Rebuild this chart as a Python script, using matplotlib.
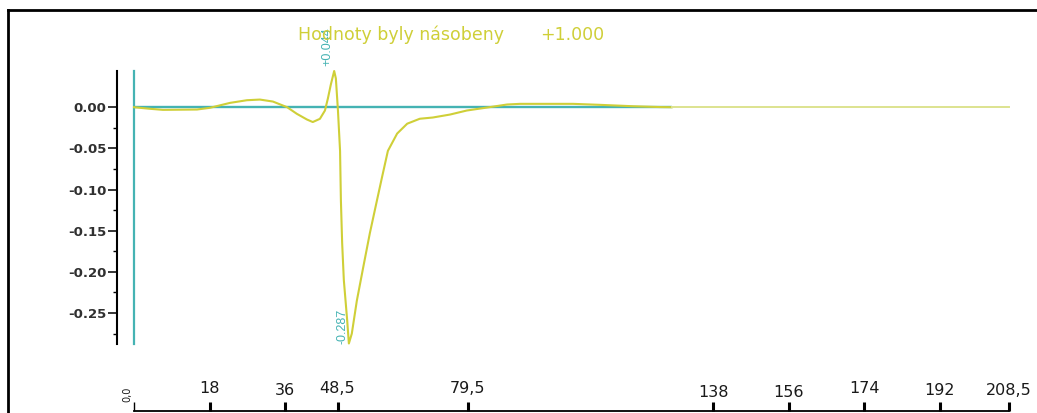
import matplotlib
matplotlib.use("Agg")
import matplotlib.pyplot as plt
from matplotlib.lines import Line2D
from matplotlib.ticker import FixedLocator

# Averaged beat: sample position and amplitude
x_sig = [0.0, 3.8, 6.9, 15.0, 18.1, 22.9, 26.9, 30.0, 33.1, 36.5, 38.8, 41.2,
         42.6, 44.3, 45.5, 46.2, 46.9, 47.7, 48.1, 48.6, 49.1, 49.3, 49.6, 50.0,
         50.8, 51.2, 51.9, 53.1, 54.6, 56.2, 57.9, 59.1, 60.5, 62.7, 65.1, 68.1,
         71.2, 75.3, 79.3, 84.1, 88.9, 92.0, 104.6, 111.0, 118.9, 125.3, 128.2,
         208.5]
y_sig = [0.0, -0.0019, -0.0032, -0.0028, -0.0007, 0.0053, 0.0085, 0.0093,
         0.0069, 0.0, -0.0080, -0.0149, -0.018, -0.0141, -0.0040, 0.0106,
         0.0275, 0.044, 0.035, -0.004, -0.053, -0.113, -0.165, -0.210, -0.259,
         -0.287, -0.275, -0.235, -0.195, -0.153, -0.113, -0.085, -0.053, -0.032,
         -0.020, -0.014, -0.0125, -0.0089, -0.0040, -0.0004, 0.0033, 0.0041,
         0.0041, 0.0029, 0.0012, 0.0002, 0.0, 0.0]

y_ticks = [0.00, -0.05, -0.10, -0.15, -0.20, -0.25]
y_minor = [-0.025, -0.075, -0.125, -0.175, -0.225, -0.275]
x_marks = [18, 36, 48.5, 79.5, 138, 156, 174, 192, 208.5]
x_mark_labels = ["18", "36", "48,5", "79,5", "138", "156", "174", "192", "208,5"]
scale_factor = 1.000
title_text = "Hodnoty byly násobeny"

W, H = 1037, 413
YELLOW = "#cfcf38"
PALE = "#dde38f"
TEAL = "#45b3b3"


def fx(px):
    return px / W


def fy(py):
    return 1 - py / H


def pt(px):
    return px * 72 / 100


fig = plt.figure(figsize=(W / 100, H / 100), dpi=100)
fig.patch.set_facecolor("white")

ax = fig.add_axes([fx(134), fy(343.5), 875 / W, (343.5 - 71) / H])
ax.set_xlim(0, 208.5)
ax.set_ylim(min(y_sig), max(y_sig))
ax.patch.set_alpha(0)
for side in ("top", "right", "bottom"):
    ax.spines[side].set_visible(False)
ax.spines["left"].set_position(("outward", pt(17)))
ax.spines["left"].set_linewidth(1.5)
ax.spines["left"].set_color("black")

ax.set_xticks([])
ax.yaxis.set_major_locator(FixedLocator(y_ticks))
ax.yaxis.set_minor_locator(FixedLocator(y_minor))
ax.set_yticklabels([f"{v:.2f}".replace("-0.00", "0.00") for v in y_ticks],
                   fontsize=9.5, fontweight="bold", color="#303030",
                   family="DejaVu Sans")
ax.tick_params(axis="y", which="major", length=pt(9), width=1.1, pad=1,
               color="black")
ax.tick_params(axis="y", which="minor", length=pt(4), width=1.0,
               color="black")

# reference lines: zero baseline and start marker
ax.axvline(x_sig[0], color=TEAL, lw=1.6, clip_on=False, zorder=2)
ax.hlines(0, x_sig[0], x_sig[-2], color=TEAL, lw=1.7, zorder=2)

# beat curve, with the flat tail drawn lighter
ax.plot(x_sig[:-1], y_sig[:-1], color=YELLOW, lw=1.5, clip_on=False,
        zorder=3)
ax.plot(x_sig[-2:], y_sig[-2:], color=PALE, lw=1.4, clip_on=False, zorder=3)

# extreme value labels
i_max = y_sig.index(max(y_sig))
i_min = y_sig.index(min(y_sig))
ax.annotate(f"{y_sig[i_max]:+.3f}", xy=(x_sig[i_max], y_sig[i_max]),
            xytext=(pt(-1), pt(5)), textcoords="offset points",
            rotation=90, ha="right", va="bottom", color=TEAL, fontsize=9,
            family="Liberation Sans", annotation_clip=False, zorder=4)
ax.annotate(f"{y_sig[i_min]:.3f}", xy=(x_sig[i_min], y_sig[i_min]),
            xytext=(pt(-0.5), pt(-1)), textcoords="offset points",
            rotation=90, ha="right", va="bottom", color=TEAL, fontsize=9,
            family="Liberation Sans", annotation_clip=False, zorder=4)

# separate time axis at the bottom
axb = fig.add_axes([fx(134), fy(411), 875 / W, 0.001])
axb.set_xlim(0, 208.5)
axb.patch.set_alpha(0)
for side in ("top", "right", "left"):
    axb.spines[side].set_visible(False)
axb.spines["bottom"].set_linewidth(1.3)
axb.set_yticks([])
axb.set_xticks([0] + x_marks)
axb.set_xticklabels([])
axb.tick_params(axis="x", direction="in", length=pt(9), width=2.2,
                color="black")
axb.xaxis.get_major_ticks()[0].tick1line.set_markeredgewidth(1.0)

label_rise = [18, 16, 18, 18, 14, 14, 18, 16, 16]
for v, lab, rise in zip(x_marks, x_mark_labels, label_rise):
    axb.annotate(lab, xy=(v, 0), xycoords=("data", "axes fraction"),
                 xytext=(0, pt(rise)), textcoords="offset points",
                 ha="center", va="baseline", fontsize=11.5,
                 family="DejaVu Sans", color="#1a1a1a",
                 annotation_clip=False)
axb.annotate("0,0", xy=(0, 0), xycoords=("data", "axes fraction"),
             xytext=(pt(-2), pt(9)), textcoords="offset points",
             rotation=90, ha="right", va="bottom", fontsize=7,
             family="DejaVu Sans", color="#1a1a1a", annotation_clip=False)

# heading with the scale factor
fig.text(fx(298), fy(40), title_text, color=YELLOW, fontsize=12.5,
         family="DejaVu Sans", ha="left", va="baseline")
fig.text(fx(540), fy(40), f"{scale_factor:+.3f}", color=YELLOW,
         fontsize=12.5, family="DejaVu Sans", ha="left", va="baseline")

# outer frame (left and top edges)
fig.add_artist(Line2D([fx(8), fx(8)], [0, fy(9.5)], transform=fig.transFigure,
                      color="black", lw=2.0))
fig.add_artist(Line2D([fx(8), 1], [fy(9.5), fy(9.5)],
                      transform=fig.transFigure, color="black", lw=2.0))

fig.savefig("out.png", dpi=100)
